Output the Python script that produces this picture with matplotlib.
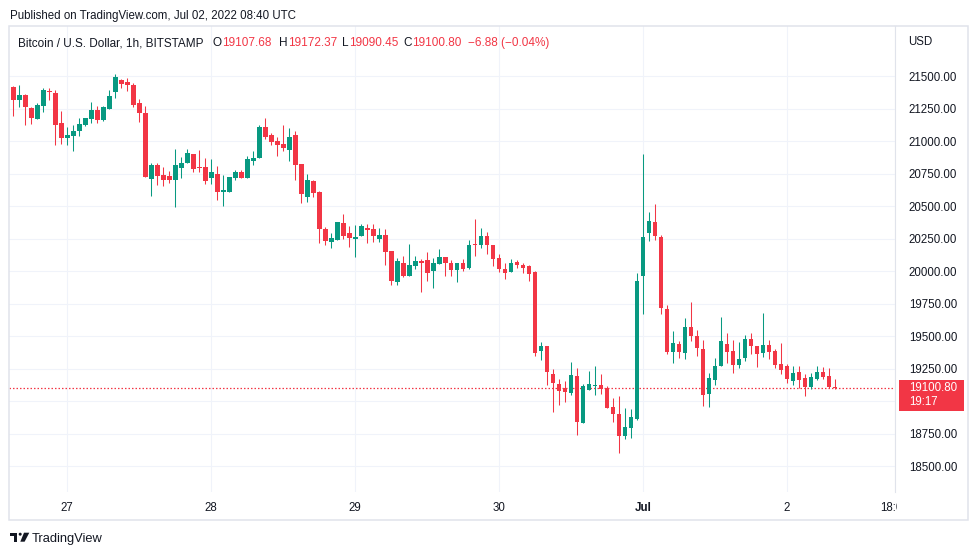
import matplotlib.pyplot as plt
import numpy as np
from matplotlib.patches import Rectangle, Circle, Polygon
from matplotlib.transforms import blended_transform_factory, Bbox, TransformedBbox

plt.rcParams['font.family'] = ['Liberation Sans', 'DejaVu Sans']

# Data: BTC/USD 1h candles, Jun 26 15:00 UTC .. Jul 02 08:00 UTC
start_hour = 15  # hours after Jun 26 00:00 UTC
opens = [21416, 21318, 21354, 21255, 21170, 21273, 21385, 21370, 21140, 21027,
         21035, 21081, 21124, 21170, 21239, 21163, 21247, 21377, 21469, 21454,
         21431, 21293, 21216, 20711, 20815, 20739, 20731, 20703, 20792, 20833,
         20900, 20800, 20800, 20718, 20746, 20611, 20611, 20718, 20762, 20718,
         20849, 20869, 21107, 21046, 20999, 20977, 20930, 21046, 20823, 20570,
         20691, 20607, 20323, 20223, 20239, 20369, 20292, 20249, 20269, 20331,
         20323, 20246, 20277, 20157, 19919, 20062, 19965, 20042, 20080, 20088,
         20004, 20057, 20111, 20065, 20007, 20058, 20027, 20211, 20203, 20273,
         20203, 20104, 20019, 19996, 20073, 20050, 20035, 19989, 19386, 19421,
         19209, 19130, 19099, 19064, 19191, 18833, 19086, 19114, 19121, 19101,
         18955, 18899, 18733, 18794, 18863, 19960, 20289, 20379, 20264, 19704,
         19377, 19437, 19368, 19568, 19499, 19399, 19052, 19161, 19269, 19438,
         19383, 19276, 19330, 19476, 19422, 19368, 19430, 19383, 19283, 19269,
         19153, 19222, 19176, 19107, 19168, 19222, 19191, 19107.68]
highs = [21420, 21431, 21365, 21262, 21296, 21408, 21408, 21393, 21232, 21109,
         21124, 21178, 21178, 21301, 21270, 21270, 21393, 21515, 21477, 21485,
         21446, 21324, 21270, 20831, 20831, 20800, 20772, 20938, 20877, 20938,
         20900, 20930, 20869, 20862, 20808, 20739, 20723, 20777, 20777, 20885,
         20923, 21122, 21176, 21061, 21030, 21122, 21099, 21076, 20823, 20746,
         20699, 20615, 20338, 20292, 20377, 20441, 20346, 20354, 20361, 20361,
         20361, 20331, 20323, 20157, 20103, 20119, 20208, 20119, 20096, 20149,
         20103, 20170, 20111, 20088, 20058, 20096, 20242, 20403, 20334, 20303,
         20203, 20134, 20065, 20096, 20081, 20065, 20050, 20004, 19452, 19421,
         19248, 19171, 19153, 19301, 19253, 19129, 19229, 19267, 19206, 19114,
         19022, 19037, 18948, 18937, 19988, 20900, 20456, 20517, 20279, 19735,
         19536, 19460, 19637, 19760, 19545, 19468, 19214, 19330, 19645, 19522,
         19468, 19453, 19507, 19522, 19422, 19676, 19468, 19399, 19445, 19283,
         19269, 19269, 19207, 19214, 19269, 19260, 19253, 19172.37]
lows = [21196, 21265, 21124, 21134, 21170, 21227, 21318, 20973, 20981, 20966,
        20927, 21035, 21117, 21140, 21140, 21155, 21247, 21331, 21408, 21385,
        21262, 21147, 20720, 20578, 20665, 20657, 20680, 20496, 20718, 20833,
        20764, 20764, 20672, 20672, 20550, 20504, 20611, 20703, 20718, 20718,
        20818, 20869, 21015, 20969, 20885, 20923, 20846, 20703, 20527, 20533,
        20569, 20213, 20200, 20177, 20239, 20246, 20185, 20108, 20269, 20216,
        20223, 20223, 20050, 19889, 19889, 19955, 19958, 20019, 19835, 19927,
        19873, 20057, 19965, 19961, 19915, 20004, 20012, 20114, 20180, 20134,
        20035, 19996, 19938, 19989, 20022, 19984, 19922, 19347, 19317, 19125,
        18918, 18972, 18995, 19048, 18741, 18833, 19086, 19045, 19052, 18948,
        18840, 18602, 18710, 18717, 18856, 19668, 20228, 20236, 19668, 19362,
        19293, 19331, 19322, 19461, 19345, 18961, 18952, 19123, 19269, 19292,
        19214, 19253, 19307, 19360, 19261, 19337, 19322, 19253, 19207, 19137,
        19123, 19100, 19038, 19092, 19160, 19168, 19100, 19090.45]
closes = [21318, 21354, 21265, 21181, 21278, 21393, 21380, 21127, 21027, 21048,
          21078, 21132, 21178, 21239, 21163, 21262, 21347, 21492, 21439, 21431,
          21278, 21219, 20720, 20815, 20734, 20703, 20703, 20815, 20831, 20907,
          20787, 20792, 20695, 20762, 20611, 20626, 20723, 20762, 20718, 20862,
          20869, 21107, 21030, 20992, 20969, 20948, 21030, 20815, 20593, 20700,
          20599, 20323, 20231, 20254, 20377, 20272, 20254, 20262, 20346, 20315,
          20269, 20277, 20149, 19927, 20080, 19963, 20047, 20080, 20065, 19981,
          20065, 20111, 20065, 20007, 20058, 20012, 20203, 20198, 20273, 20198,
          20091, 20012, 19984, 20065, 20045, 20027, 19976, 19370, 19421, 19225,
          19140, 19079, 19071, 19199, 18841, 19114, 19129, 19121, 19096, 18948,
          18899, 18733, 18799, 18876, 19926, 20264, 20387, 20266, 19714, 19377,
          19444, 19377, 19568, 19499, 19407, 19046, 19175, 19269, 19461, 19376,
          19276, 19322, 19476, 19422, 19360, 19430, 19376, 19276, 19237, 19168,
          19214, 19161, 19107, 19184, 19222, 19184, 19107, 19100.80]

day_ticks = [24, 48, 72, 96, 120, 144, 162]
day_labels = ['27', '28', '29', '30', 'Jul', '2', '18:00']
price_ticks = list(range(18500, 21501, 250))
hidden_price_labels = [19000]  # covered by the last-price badge

GREEN = '#089981'
RED = '#f23645'
TEXT = '#131722'
GRID = '#f0f3fa'
BORDER = '#e0e3eb'

W, H = 979, 555
fig = plt.figure(figsize=(W / 100, H / 100), dpi=100)
fig.patch.set_facecolor('white')

# main price pane (pixel layout: x 9..895, y 26..492)
ax = fig.add_axes([9 / W, (H - 492) / H, 886 / W, 466 / H])
ymin, ymax = 18300, 21885
ax.set_xlim(14.28, 161.95)
ax.set_ylim(ymin, ymax)
unit = (ymax - ymin) / 466.0  # price per pixel

hours = np.arange(len(opens)) + start_hour
o = np.array(opens, dtype=float)
c = np.array(closes, dtype=float)
hi = np.array(highs, dtype=float)
lo = np.array(lows, dtype=float)
cols = [GREEN if cc >= oo else RED for oo, cc in zip(o, c)]

ax.vlines(hours, lo, hi, colors=cols, linewidth=0.75, zorder=3)
body_lo = np.minimum(o, c)
body_h = np.maximum(np.abs(c - o), unit)
ax.bar(hours, body_h, bottom=body_lo, width=0.78, color=cols, linewidth=0, zorder=4)

# last price dotted line
ax.axhline(closes[-1], color=RED, linewidth=0.9, linestyle=(0, (1.2, 1.6)), zorder=2)

ax.set_yticks(price_ticks)
ax.set_yticklabels(['' if p in hidden_price_labels else f'{p:.2f}' for p in price_ticks])
ax.yaxis.tick_right()
ax.set_xticks(day_ticks)
ax.set_xticklabels(day_labels)
ax.tick_params(axis='both', length=0, labelsize=8.3, labelcolor=TEXT)
ax.tick_params(axis='y', pad=10)
ax.tick_params(axis='x', pad=7)
ax.grid(True, color=GRID, linewidth=0.75, zorder=0)
for s in ax.spines.values():
    s.set_visible(False)
for lab in ax.get_xticklabels():
    if lab.get_text() == 'Jul':
        lab.set_fontweight('bold')

# last price label box on the price scale
bt = blended_transform_factory(ax.transAxes, ax.transData)
last = closes[-1]
ax.add_patch(Rectangle((1.0045, last - 23 * unit), 65 / 886, 31 * unit,
                       transform=bt, facecolor=RED, edgecolor='none',
                       clip_on=False, zorder=6))
ax.text(1.0158, last + 6 * unit, f'{last:.2f}\n19:17', transform=bt, color='white',
        fontsize=8.3, va='top', ha='left', linespacing=1.22,
        clip_on=False, zorder=7)

# overlay in pixel coordinates for frame and captions
ov = fig.add_axes([0, 0, 1, 1], zorder=5)
ov.set_xlim(0, W)
ov.set_ylim(H, 0)
ov.axis('off')
ov.patch.set_alpha(0)

# clip the x labels at the price-scale separator
clip = TransformedBbox(Bbox([[9, 0], [897, H]]), ov.transData)
for lab in ax.get_xticklabels():
    lab.set_clip_box(clip)
    lab.set_clip_on(True)

ov.add_patch(Rectangle((9, 25.5), 959, 494, fill=False, edgecolor=BORDER, linewidth=1.1))
ov.plot([895, 895], [25.5, 492], color=BORDER, linewidth=0.8)

ov.text(10, 18.5, 'Published on TradingView.com, Jul 02, 2022 08:40 UTC',
        fontsize=8.3, color=TEXT, va='baseline', ha='left')

legend_parts = [
    (18, 'Bitcoin / U.S. Dollar, 1h, BITSTAMP', TEXT),
    (213, 'O', TEXT), (222, '19107.68', RED),
    (279, 'H', TEXT), (288, '19172.37', RED),
    (342, 'L', TEXT), (349, '19090.45', RED),
    (403, 'C', TEXT), (412, '19100.80', RED),
    (468, '\u22126.88 (\u22120.04%)', RED),
]
for x, t, col in legend_parts:
    ov.text(x, 46, t, fontsize=8.5, color=col, va='baseline', ha='left')

ov.text(908, 45, 'USD', fontsize=8.3, color=TEXT, va='baseline', ha='left')

# TradingView footer logo + name
ov.add_patch(Rectangle((10, 532.7), 7.3, 2.8, facecolor=TEXT, edgecolor='none'))
ov.add_patch(Rectangle((14, 532.7), 3.3, 9.0, facecolor=TEXT, edgecolor='none'))
ov.add_patch(Circle((20.2, 534.2), 1.5, facecolor=TEXT, edgecolor='none'))
ov.add_patch(Polygon([(24.0, 532.7), (29.3, 532.7), (24.6, 541.7), (20.3, 541.7)],
                     closed=True, facecolor=TEXT, edgecolor='none'))
ov.text(32, 542, 'TradingView', fontsize=9.3, color=TEXT, va='baseline', ha='left')

fig.savefig('out.png', dpi=100, facecolor='white')
